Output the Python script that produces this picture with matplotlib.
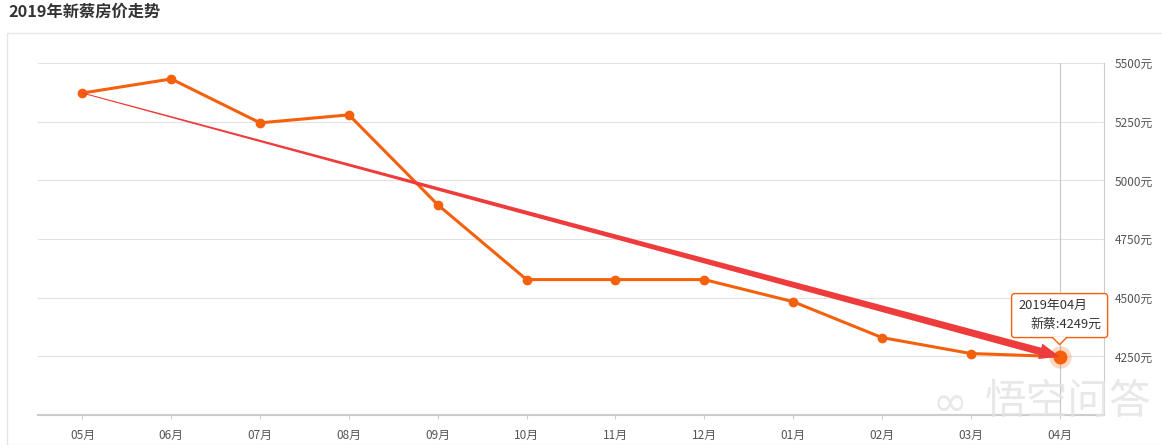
import numpy as np
import matplotlib
matplotlib.use('Agg')
import matplotlib.pyplot as plt
from matplotlib.patches import Rectangle, Polygon, FancyBboxPatch
from matplotlib.transforms import IdentityTransform

plt.rcParams['font.family'] = ['Noto Sans CJK SC', 'DejaVu Sans']

# data
months = ['05月', '06月', '07月', '08月', '09月', '10月', '11月', '12月', '01月', '02月', '03月', '04月']
prices = [5372, 5432, 5245, 5279, 4896, 4577, 4577, 4577, 4483, 4330, 4262, 4249]
yticks = [4250, 4500, 4750, 5000, 5250, 5500]
title = '2019年新蔡房价走势'
tip_title = '2019年04月'
tip_series = '新蔡'

orange = '#f4600c'
red = '#ee3b3b'
grey_txt = '#555555'

W, H = 1162, 445
fig = plt.figure(figsize=(W / 100, H / 100), dpi=100)

# light frame round the chart
fig.add_artist(Rectangle((7 / W, 0), 1, 1 - 33 / H, transform=fig.transFigure,
                         fill=False, ec='#e6e6e6', lw=1))
fig.text(8 / W, 1 - 12 / H, title, fontsize=11.7, fontweight='bold', color='#333333',
         ha='left', va='center')

ax = fig.add_axes([38 / W, 1 - 415 / H, (1104 - 38) / W, (415 - 63) / H])
x = np.arange(len(months))
ax.set_xlim(-0.5, len(months) - 0.5)
ax.set_ylim(4000, 5500)

for s in ['left', 'top']:
    ax.spines[s].set_visible(False)
ax.spines['right'].set_color('#cccccc')
ax.spines['bottom'].set_color('#cccccc')
ax.spines['bottom'].set_linewidth(1.5)

ax.yaxis.tick_right()
ax.set_yticks(yticks)
ax.set_yticklabels([f'{v}元' for v in yticks])
ax.tick_params(axis='y', length=0, pad=8, labelsize=8.5, labelcolor=grey_txt)
ax.set_xticks(x)
ax.set_xticklabels(months)
ax.tick_params(axis='x', length=3, color='#cccccc', pad=7, labelsize=8.5, labelcolor=grey_txt)
ax.grid(axis='y', color='#e2e2e2', lw=0.8)
ax.set_axisbelow(True)

# crosshair on the last month
ax.axvline(x[-1], color='#c8c8c8', lw=0.8, zorder=1)

ax.plot(x, prices, color=orange, lw=2.2, marker='o', ms=6, zorder=3)
# highlighted last point
ax.plot(x[-1], prices[-1], 'o', ms=16, color=orange, alpha=0.25, mec='none', zorder=3)
ax.plot(x[-1], prices[-1], 'o', ms=9, color=orange, zorder=4)

# hand-drawn tapered red arrow from first to last point
p0 = ax.transData.transform((x[0], prices[0]))
p1 = ax.transData.transform((x[-1], prices[-1]))
d = p1 - p0
u = d / np.hypot(*d)
n = np.array([-u[1], u[0]])
head_len, head_w, w0, w1 = 20, 8, 0.5, 3.8
base = p1 - u * head_len
arrow = Polygon([p0 + n * w0, base + n * w1, base + n * head_w, p1,
                 base - n * head_w, base - n * w1, p0 - n * w0],
                closed=True, fc=red, ec='none', transform=IdentityTransform(), zorder=5)
fig.add_artist(arrow)

# tooltip
bx0, bx1 = p1[0] - 48, p1[0] + 48
by0, by1 = p1[1] + 19, p1[1] + 63
box = FancyBboxPatch((bx0, by0), bx1 - bx0, by1 - by0, boxstyle='round,pad=0,rounding_size=3',
                     fc='white', ec=orange, lw=1, transform=IdentityTransform(), zorder=6)
fig.add_artist(box)
ptr = Polygon([(p1[0] - 7, by0 + 0.8), (p1[0] + 7, by0 + 0.8), (p1[0], by0 - 7)], closed=True,
              fc='white', ec='none', transform=IdentityTransform(), zorder=7)
fig.add_artist(ptr)
fig.add_artist(plt.Line2D([p1[0] - 7, p1[0], p1[0] + 7], [by0, by0 - 7, by0], color=orange, lw=1,
                          transform=IdentityTransform(), zorder=7))
fig.text((bx0 + 7) / W, (by1 - 12) / H, tip_title, fontsize=9.3, color='#333333',
         ha='left', va='center', zorder=8)
fig.text((bx0 + 19) / W, (by1 - 31) / H, f'{tip_series}:{prices[-1]}元', fontsize=9.3,
         color='#333333', ha='left', va='center', zorder=8)

# watermark
fig.text(985 / W, 1 - 402 / H, '悟空问答', fontsize=30, color='#e3e3e3', alpha=0.8,
         ha='left', va='center', zorder=9)
fig.text(950 / W, 1 - 404 / H, '∞', fontsize=30, color='#e3e3e3', alpha=0.8,
         ha='center', va='center', family='DejaVu Sans', zorder=9)

fig.savefig('out.png', dpi=100)
